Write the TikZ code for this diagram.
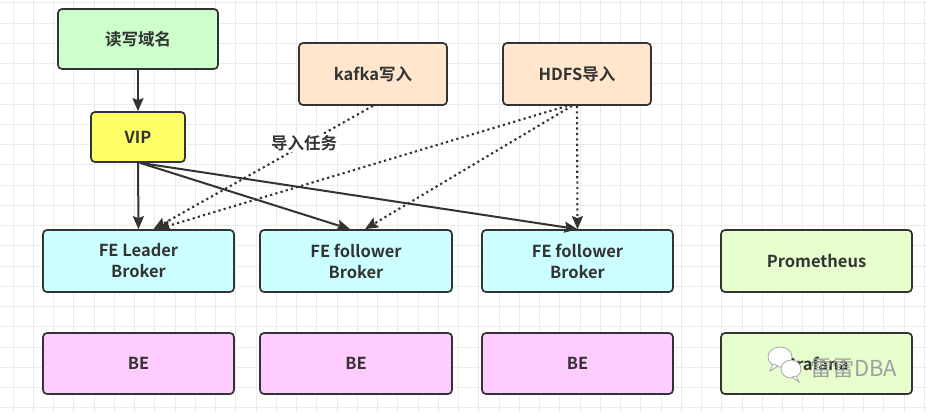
\documentclass[tikz,border=0pt]{standalone}
\usepackage{fontspec}
\setmainfont{Noto Sans CJK SC}
\newfontfamily\cjkbold{Noto Sans CJK SC Bold}
\usetikzlibrary{arrows.meta,calc}
\definecolor{ink}{HTML}{333333}
\definecolor{gridc}{HTML}{EBEBEB}
\definecolor{cgreen}{HTML}{CCFFCC}
\definecolor{cyellow}{HTML}{FFFF66}
\definecolor{corange}{HTML}{FFE6CC}
\definecolor{ccyan}{HTML}{CCFFFF}
\definecolor{clime}{HTML}{E6FFCC}
\definecolor{cpink}{HTML}{FFCCFF}
\tikzset{
  box/.style={draw=ink, line width=1.7pt, rounded corners=4pt, align=center,
    text=ink, font=\cjkbold\fontsize{16.5}{21}\selectfont, inner sep=0pt},
  solidarrow/.style={draw=ink, line width=2pt, -{Stealth[length=13pt,width=11pt,inset=2pt]}},
  dotarrow/.style={draw=ink, line width=2.1pt, dash pattern=on 2.2pt off 3.2pt,
    -{Stealth[length=13pt,width=11pt,inset=2pt]}},
  lbl/.style={text=ink, font=\cjkbold\fontsize{16.5}{20}\selectfont, fill=white, inner sep=1.5pt},
}
\begin{document}
\begin{tikzpicture}[x=1pt,y=-1pt]
\useasboundingbox (0,0) rectangle (927,413);
\fill[white] (0,0) rectangle (927,413);
% grid
\foreach \i in {0,...,45} {\draw[gridc, line width=0.9pt] ({13+\i*20.25},0) -- ++(0,413);}
\foreach \j in {0,...,20} {\draw[gridc, line width=0.9pt] (0,{2.75+\j*20.25}) -- ++(927,0);}

% nodes
\node[box, fill=cgreen, minimum width=160pt, minimum height=60pt] (rw) at (138,39) {读写域名};
\node[box, fill=cyellow, minimum width=94pt, minimum height=50pt] (vip) at (138,137) {VIP};
\node[box, fill=corange, minimum width=148pt, minimum height=62pt] (kafka) at (373,74) {kafka写入};
\node[box, fill=corange, minimum width=148pt, minimum height=62pt] (hdfs) at (577,74) {HDFS导入};

\node[box, fill=ccyan, minimum width=191pt, minimum height=62pt] (fel) at (138.5,261) {FE Leader\\Broker};
\node[box, fill=ccyan, minimum width=192pt, minimum height=62pt] (fe1) at (356,261) {FE follower\\Broker};
\node[box, fill=ccyan, minimum width=191pt, minimum height=62pt] (fe2) at (577.5,261) {FE follower\\Broker};
\node[box, fill=clime, minimum width=191pt, minimum height=62pt] (prom) at (816.5,261) {Prometheus};

\node[box, fill=cpink, minimum width=191pt, minimum height=61pt] (be1) at (138.5,363.5) {BE};
\node[box, fill=cpink, minimum width=192pt, minimum height=61pt] (be2) at (356,363.5) {BE};
\node[box, fill=cpink, minimum width=191pt, minimum height=61pt] (be3) at (577.5,363.5) {BE};
\node[box, fill=clime, minimum width=191pt, minimum height=61pt] (graf) at (816.5,363.5) {Grafana};

% solid arrows
\draw[solidarrow] (rw.south) -- (vip.north);
\draw[solidarrow] (vip.south) -- (fel.north);
\draw[solidarrow] ($(vip.south)+(2,0)$) -- ($(fe1.north)+(-6,0)$);
\draw[solidarrow] ($(vip.south)+(2,0)$) -- (fe2.north);

% dotted arrows
\draw[dotarrow] (kafka.south) -- node[lbl, pos=0.3, xshift=-3pt] (task) {导入任务} ($(fel.north)+(15,0)$);
\draw[dotarrow] ($(hdfs.south)+(-10,0)$) -- ($(fel.north)+(19,0)$);
\draw[dotarrow] ($(hdfs.south)+(-5,0)$) -- ($(fe1.north)+(9,0)$);
\draw[dotarrow] (hdfs.south) -- (fe2.north);

% watermark
\begin{scope}[draw=gray!70, fill=white, line width=0.8pt]
  \filldraw (780,357) ellipse (12pt and 10pt);
  \filldraw (773,364) -- (770,371) -- (778,366) -- cycle;
  \filldraw (791,369) ellipse (10pt and 9pt);
  \filldraw (796,376) -- (799,382) -- (792,377) -- cycle;
\end{scope}
\node[text=gray!75, font=\fontsize{22}{22}\selectfont, inner sep=0pt] (wm) at (853.5,369) {雷雷DBA};
\end{tikzpicture}
\end{document}
